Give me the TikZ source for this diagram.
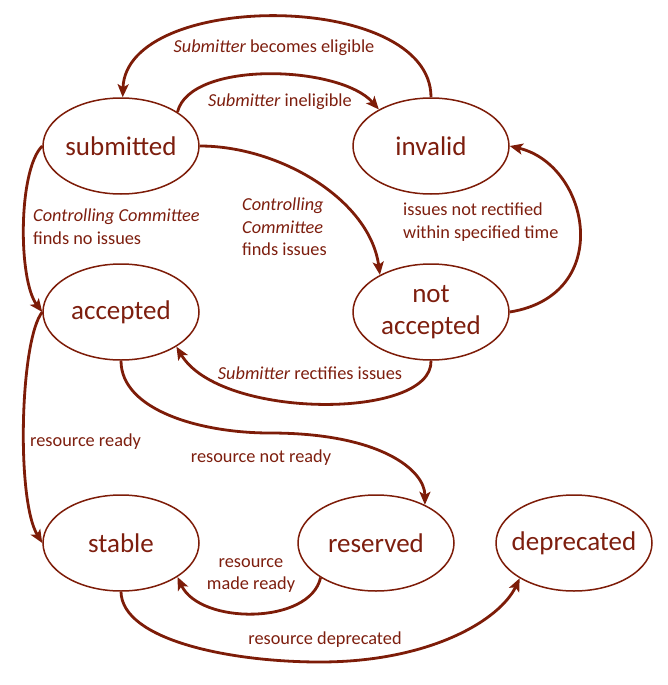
\documentclass[tikz,border=0pt]{standalone}
\usepackage{fontspec}
\setmainfont{Carlito}
\usetikzlibrary{arrows.meta,shapes.geometric}
\definecolor{dred}{RGB}{125,28,8}
\definecolor{tred}{RGB}{125,30,14}
\tikzset{
  state/.style={ellipse,draw=dred,line width=1.5pt,minimum width=156pt,minimum height=96pt,inner ysep=0pt,inner xsep=-20pt,text=tred,font=\fontsize{27}{32}\selectfont,align=center},
  trans/.style={draw=dred,line width=2.8pt,-{Stealth[length=13pt,width=11pt,inset=3pt]}},
  lbl/.style={text=tred,font=\fontsize{18.3}{22.5}\selectfont,inner sep=0pt},
}
\begin{document}
\begin{tikzpicture}[x=1pt,y=-1pt]
\useasboundingbox (0,0) rectangle (668,685);
\node[state] (submitted) at (121,146) {submitted};
\node[state] (invalid) at (431,146) {invalid};
\node[state] (accepted) at (121,312) {accepted};
\node[state] (notacc) at (431,312) {not\\accepted};
\node[state] (stable) at (121,543) {stable};
\node[state] (reserved) at (376,543) {reserved};
\node[state] (deprecated) at (574,543) {deprecated};

\draw[trans] (invalid.north) .. controls (431,-10) and (126,-10) .. (submitted.88);
\draw[trans] (submitted.31) .. controls (190,60) and (340,65) .. (invalid.145);
\draw[trans] (submitted.east) .. controls (280,146) and (370,200) .. (notacc.144);
\draw[trans] (submitted.west) .. controls (18,170) and (18,280) .. (accepted.west);
\draw[trans] (notacc.east) .. controls (615,295) and (590,165) .. (invalid.east);
\draw[trans] (notacc.south) .. controls (433,420) and (220,420) .. (accepted.-32);
\draw[trans] (accepted.south) .. controls (121,410) and (200,433) .. (270,433)
  .. controls (380,433) and (425,470) .. (reserved.38);
\draw[trans] (accepted.west) .. controls (20,340) and (16,500) .. (stable.west);
\draw[trans] (reserved.212) .. controls (310,625) and (200,625) .. (stable.-31);
\draw[trans] (stable.south) .. controls (122,640) and (230,662) .. (320,662)
  .. controls (430,662) and (500,620) .. (deprecated.213);

\node[lbl] (l1) at (274,48) {\textit{Submitter} becomes eligible};
\node[lbl] (l2) at (280,102) {\textit{Submitter} ineligible};
\node[lbl,anchor=west,align=left] (l3) at (242,227) {\textit{Controlling}\\\textit{Committee}\\finds issues};
\node[lbl,anchor=west,align=left] (l4) at (33,226.5) {\textit{Controlling Committee}\\finds no issues};
\node[lbl,anchor=west,align=left] (l5) at (403,222) {issues not rectified\\within specified time};
\node[lbl] (l6) at (310,373) {\textit{Submitter} rectifies issues};
\node[lbl,anchor=west] (l7) at (30,442) {resource ready};
\node[lbl] (l8) at (261,458) {resource not ready};
\node[lbl,align=center] (l9) at (251,575.5) {resource\\made ready};
\node[lbl] (l10) at (325,640) {resource deprecated};
\end{tikzpicture}
\end{document}
